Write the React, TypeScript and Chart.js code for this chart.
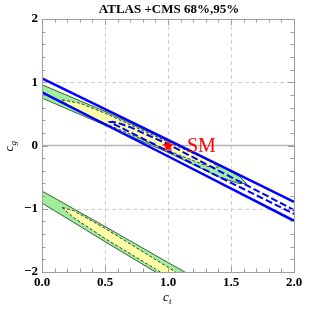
import React, { useEffect, useRef } from "react";
import { Chart, registerables } from "chart.js";
Chart.register(...registerables);

// ---- data ----
const titleText = "ATLAS +CMS 68%,95%";
const xMajorTicks = [0, 0.5, 1, 1.5, 2];
const yMajorTicks = [-2, -1, 0, 1, 2];
const xDashedGrid = [0.5, 1, 1.5];
const yDashedGrid = [-1, 1];

// blue 95% contour (solid)
const blueOuterUpper: number[][] = [[-0.05, 1.11], [0, 1.06], [1, 0.09], [2, -0.89], [2.05, -0.94]];
const blueOuterLower: number[][] = [[-0.05, 0.89], [0, 0.84], [1, -0.17], [2, -1.19], [2.05, -1.24]];
// blue 68% contour (dashed closed loop)
const blueInnerLoop: number[][] = [
  [2.08, -1.10], [2.0, -1.02], [1.5, -0.50], [1.0, 0.02], [0.7, 0.29], [0.6, 0.36], [0.56, 0.375], [0.54, 0.37],
  [0.56, 0.345], [0.6, 0.31], [0.7, 0.21], [1.0, -0.09], [1.5, -0.59], [2.0, -1.08], [2.08, -1.16],
];
// green 95% region, upper band
const greenUpper: number[][] = [
  [-0.05, 1.0], [0, 0.96], [0.5, 0.54], [1.0, 0.075], [1.25, -0.15], [1.49, -0.40], [1.58, -0.51], [1.62, -0.60],
  [1.56, -0.60], [1.41, -0.50], [1.25, -0.35], [1.0, -0.11], [0.5, 0.32], [0, 0.75], [-0.05, 0.79],
];
// yellow 68% region, upper band
const yellowUpper: number[][] = [
  [0.16, 0.72], [0.3, 0.67], [0.5, 0.51], [1.0, 0.055], [1.25, -0.17], [1.35, -0.27], [1.40, -0.34],
  [1.33, -0.34], [1.0, -0.08], [0.5, 0.35], [0.3, 0.53], [0.2, 0.65], [0.16, 0.72],
];
// green 95% region, lower band
const greenLower: number[][] = [
  [-0.05, -0.66], [0, -0.72], [0.5, -1.28], [1.0, -1.85], [1.4, -2.3],
  [1.15, -2.3], [0.5, -1.52], [0, -0.91], [-0.05, -0.85],
];
// yellow 68% region, lower band
const yellowLower: number[][] = [
  [0.16, -0.98], [0.25, -1.03], [0.5, -1.31], [1.06, -2.0], [1.3, -2.3],
  [1.08, -2.3], [0.94, -2.0], [0.5, -1.47], [0.25, -1.14], [0.16, -0.98],
];
const smPoint: number[][] = [[1, 0]];
const smLabel = "SM";

const SERIF = "'Liberation Serif', 'Times New Roman', serif";

const toXY = (arr: number[][]) => arr.map(([x, y]) => ({ x, y }));

function makeStar(size: number, color: string) {
  const c = document.createElement("canvas");
  c.width = size;
  c.height = size;
  const g = c.getContext("2d")!;
  g.fillStyle = color;
  g.beginPath();
  const cx = size / 2, cy = size / 2 + 0.7, R = size / 2, r = R * 0.42;
  for (let i = 0; i < 10; i++) {
    const ang = -Math.PI / 2 + (i * Math.PI) / 5;
    const rad = i % 2 ? r : R;
    g.lineTo(cx + rad * Math.cos(ang), cy + rad * Math.sin(ang));
  }
  g.closePath();
  g.fill();
  return c;
}

const decor = {
  id: "decor",
  beforeDatasetsDraw(chart: any) {
    const { ctx, chartArea: a, scales } = chart;
    const x = scales.x, y = scales.y;
    ctx.save();
    ctx.strokeStyle = "#cfcfcf";
    ctx.lineWidth = 1;
    ctx.setLineDash([4, 3]);
    for (const v of xDashedGrid) {
      const px = Math.round(x.getPixelForValue(v)) + 0.5;
      ctx.beginPath(); ctx.moveTo(px, a.top); ctx.lineTo(px, a.bottom); ctx.stroke();
    }
    for (const v of yDashedGrid) {
      const py = Math.round(y.getPixelForValue(v)) + 0.5;
      ctx.beginPath(); ctx.moveTo(a.left, py); ctx.lineTo(a.right, py); ctx.stroke();
    }
    ctx.setLineDash([]);
    ctx.strokeStyle = "#b4b4b4";
    ctx.lineWidth = 1.5;
    const p0 = y.getPixelForValue(0);
    ctx.beginPath(); ctx.moveTo(a.left, p0); ctx.lineTo(a.right, p0); ctx.stroke();
    ctx.restore();
  },
  afterDatasetsDraw(chart: any) {
    const { ctx, chartArea: a, scales } = chart;
    const x = scales.x, y = scales.y;
    ctx.save();
    // frame
    ctx.strokeStyle = "#a0a0a0";
    ctx.lineWidth = 1;
    ctx.strokeRect(Math.round(a.left) + 0.5, Math.round(a.top) + 0.5, Math.round(a.right - a.left), Math.round(a.bottom - a.top));
    // ticks on all four sides (inward)
    ctx.strokeStyle = "#9a9a9a";
    const tick = (px: number, major: boolean, vertical: boolean) => {
      const L = major ? 6 : 3.5;
      ctx.beginPath();
      if (vertical) {
        ctx.moveTo(px, a.bottom); ctx.lineTo(px, a.bottom - L);
        ctx.moveTo(px, a.top); ctx.lineTo(px, a.top + L);
      } else {
        ctx.moveTo(a.left, px); ctx.lineTo(a.left + L, px);
        ctx.moveTo(a.right, px); ctx.lineTo(a.right - L, px);
      }
      ctx.stroke();
    };
    for (let i = 0; i <= 20; i++) {
      const v = i * 0.1;
      tick(Math.round(x.getPixelForValue(v)) + 0.5, i % 5 === 0, true);
    }
    for (let i = 0; i <= 20; i++) {
      const v = -2 + i * 0.2;
      tick(Math.round(y.getPixelForValue(v)) + 0.5, i % 5 === 0, false);
    }
    // SM label next to the star
    const sx = x.getPixelForValue(smPoint[0][0]);
    const sy = y.getPixelForValue(smPoint[0][1]);
    ctx.fillStyle = "#ff0000";
    ctx.font = `20px ${SERIF}`;
    ctx.textAlign = "left";
    ctx.textBaseline = "alphabetic";
    ctx.fillText(smLabel, sx + 19, sy + 6);
    // axis titles
    ctx.fillStyle = "#000";
    const cxm = (a.left + a.right) / 2;
    ctx.font = `italic 13px ${SERIF}`;
    ctx.fillText("c", cxm - 5, 301);
    ctx.font = `italic 9px ${SERIF}`;
    ctx.fillText("t", cxm + 1, 304);
    const cym = (a.top + a.bottom) / 2;
    ctx.translate(13, cym + 1);
    ctx.rotate(-Math.PI / 2);
    ctx.font = `italic 13px ${SERIF}`;
    ctx.fillText("c", -5, 0);
    ctx.font = `italic 9px ${SERIF}`;
    ctx.fillText("g", 1, 3);
    ctx.restore();
    // title
    ctx.save();
    ctx.fillStyle = "#000";
    ctx.font = `bold 13px ${SERIF}`;
    ctx.textAlign = "center";
    ctx.textBaseline = "alphabetic";
    ctx.fillText(titleText, 169, 13);
    ctx.restore();
  },
};

export default function App() {
  const ref = useRef<HTMLCanvasElement | null>(null);
  useEffect(() => {
    if (!ref.current) return;
    const star = makeStar(13, "#ff0000");
    const region = (data: number[][], fillColor: string, border: string, dash: number[]) => ({
      data: toXY(data),
      showLine: true,
      fill: "shape",
      backgroundColor: fillColor,
      borderColor: border,
      borderWidth: 1,
      borderDash: dash,
      pointRadius: 0,
      tension: 0,
    });
    const chart = new Chart(ref.current, {
      type: "scatter",
      data: {
        datasets: [
          { data: toXY(smPoint), pointStyle: star as any, pointRadius: 7, showLine: false } as any,
          { data: toXY(blueInnerLoop), showLine: true, fill: false, borderColor: "#0000ff", borderWidth: 2, borderDash: [7, 3], pointRadius: 0 },
          { data: toXY(blueOuterUpper), showLine: true, fill: false, borderColor: "#0000ff", borderWidth: 2.5, pointRadius: 0 },
          { data: toXY(blueOuterLower), showLine: true, fill: false, borderColor: "#0000ff", borderWidth: 2.5, pointRadius: 0 },
          region(yellowUpper, "rgb(255,255,165)", "#3a3a3a", [3, 2]),
          region(greenUpper, "rgb(160,238,155)", "#3f5f3f", []),
          region(yellowLower, "rgb(255,255,165)", "#3a3a3a", [3, 2]),
          region(greenLower, "rgb(160,238,155)", "#3f5f3f", []),
        ] as any,
      },
      options: {
        responsive: false,
        animation: false,
        devicePixelRatio: 1,
        layout: { padding: { top: 19, right: 21, left: 0, bottom: 0 } },
        plugins: { legend: { display: false }, tooltip: { enabled: false }, title: { display: false } },
        scales: {
          x: {
            type: "linear",
            min: 0,
            max: 2,
            grid: { display: false, drawTicks: false },
            border: { display: false },
            afterFit: (s: any) => { s.height = 38; },
            afterBuildTicks: (s: any) => { s.ticks = xMajorTicks.map((v) => ({ value: v })); },
            ticks: {
              padding: 3,
              color: "#000",
              font: { family: SERIF, size: 13, weight: "bold" },
              callback: (v: any) => Number(v).toFixed(1),
              maxRotation: 0,
            },
          },
          y: {
            type: "linear",
            min: -2,
            max: 2,
            grid: { display: false, drawTicks: false },
            border: { display: false },
            afterFit: (s: any) => { s.width = 42; },
            afterBuildTicks: (s: any) => { s.ticks = yMajorTicks.map((v) => ({ value: v })); },
            ticks: {
              padding: 4,
              color: "#000",
              font: { family: SERIF, size: 13, weight: "bold" },
              callback: (v: any) => (Number(v) < 0 ? "\u2212" + Math.abs(Number(v)) : String(v)),
            },
          },
        },
      } as any,
      plugins: [decor],
    });
    return () => chart.destroy();
  }, []);
  return (
    <div style={{ position: "absolute", left: 0, top: 0, width: 315, height: 310, background: "#fff" }}>
      <canvas ref={ref} width={315} height={310} style={{ display: "block" }} />
    </div>
  );
}
